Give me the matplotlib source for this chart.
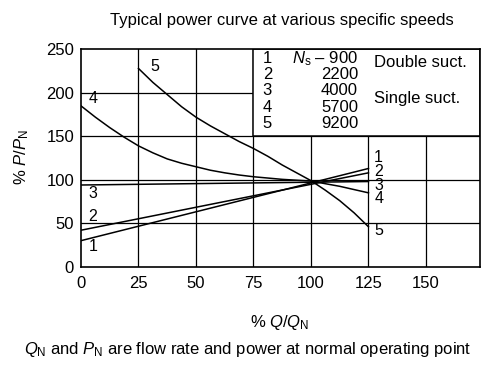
import matplotlib
matplotlib.use('Agg')
import matplotlib.pyplot as plt
from matplotlib.patches import Rectangle

plt.rcParams['font.family'] = ['Liberation Sans', 'DejaVu Sans']
plt.rcParams['mathtext.fontset'] = 'custom'
plt.rcParams['mathtext.rm'] = 'Liberation Sans'
plt.rcParams['mathtext.it'] = 'Liberation Sans:italic'

# curve data (% Q/QN, % P/PN)
q_lin = [0, 125]
p1 = [30, 113]
p2 = [42, 108]
p3 = [94, 98]

q4 = [0, 6.25, 12.5, 18.75, 25, 31.25, 37.5, 43.75, 50, 56.25, 62.5, 68.75, 75, 87.5, 100, 112.5, 125]
p4 = [185, 172, 160, 149, 139, 131, 124, 119, 115, 111, 108, 105.5, 103.5, 100.5, 98.5, 92.5, 85]

q5 = [25, 31.25, 37.5, 43.75, 50, 56.25, 62.5, 68.75, 75, 81.25, 87.5, 93.75, 100, 106.25, 112.5, 118.75, 125]
p5 = [228, 212, 198, 184, 172, 162, 153, 144, 136, 127, 117, 108, 99, 88, 76, 62, 46]

# curve number labels: (text, x, y)
left_labels = [('5', 30, 230), ('4', 3.5, 193), ('3', 3.2, 84), ('2', 3.2, 58), ('1', 3.2, 23)]
right_labels = [('1', 127.5, 126), ('2', 127.5, 110), ('3', 127.5, 94), ('4', 127.5, 79), ('5', 127.5, 42)]

# legend table
ns_ids = ['1', '2', '3', '4', '5']
ns_vals = [r'$N_{\rm s}$ – 900', '2200', '4000', '5700', '9200']

xticks = [0, 25, 50, 75, 100, 125, 150]
yticks = [0, 50, 100, 150, 200, 250]

fig = plt.figure(figsize=(5, 3.71), dpi=100)
ax = fig.add_axes([0.162, 0.281, 0.798, 0.586])

fs = 12
lw = 1.1
for x in xticks[1:]:
    ax.axvline(x, color='black', lw=0.9, zorder=1)
for y in yticks[1:-1]:
    ax.axhline(y, color='black', lw=0.9, zorder=1)

ax.plot(q_lin, p1, color='black', lw=lw, zorder=3)
ax.plot(q_lin, p2, color='black', lw=lw, zorder=3)
ax.plot(q_lin, p3, color='black', lw=lw, zorder=3)
ax.plot(q4, p4, color='black', lw=lw, zorder=3)
ax.plot(q5, p5, color='black', lw=lw, zorder=3)

for t, x, y in left_labels + right_labels:
    ax.text(x, y, t, fontsize=11.5, ha='left', va='center', zorder=4)

xmax = 173.5
ax.set_xlim(0, xmax)
ax.set_ylim(0, 250)

# white table box in the upper right
ax.add_patch(Rectangle((75, 150), xmax - 75, 100, facecolor='white',
                       edgecolor='black', lw=1.1, zorder=5))
row_y = [234.5, 215.5, 197, 178.5, 160]
for i in range(5):
    ax.text(79, row_y[i], ns_ids[i], fontsize=fs, ha='left', va='baseline', zorder=6)
    ax.text(120.5, row_y[i], ns_vals[i], fontsize=fs, ha='right', va='baseline', zorder=6)
ax.text(127.5, 235, 'Double suct.', fontsize=fs, ha='left', va='center', zorder=6)
ax.text(127.5, 193, 'Single suct.', fontsize=fs, ha='left', va='center', zorder=6)

ax.set_xticks(xticks)
ax.set_yticks(yticks)
ax.tick_params(length=0, labelsize=fs)
ax.tick_params(axis='x', pad=7)
ax.tick_params(axis='y', pad=5)
for s in ax.spines.values():
    s.set_linewidth(1.2)
    s.set_zorder(7)

fig.text(0.564, 0.946, 'Typical power curve at various specific speeds',
         fontsize=fs, ha='center', va='center')
fig.text(0.043, 0.576, r'% $P/P_{\rm N}$', fontsize=fs, rotation=90,
         ha='center', va='center')
fig.text(0.56, 0.132, r'% $Q/Q_{\rm N}$', fontsize=fs, ha='center', va='center')
fig.text(0.495, 0.059, r'$Q_{\rm N}$ and $P_{\rm N}$ are flow rate and power at normal operating point',
         fontsize=fs, ha='center', va='center')

fig.savefig('out.png', dpi=100)
